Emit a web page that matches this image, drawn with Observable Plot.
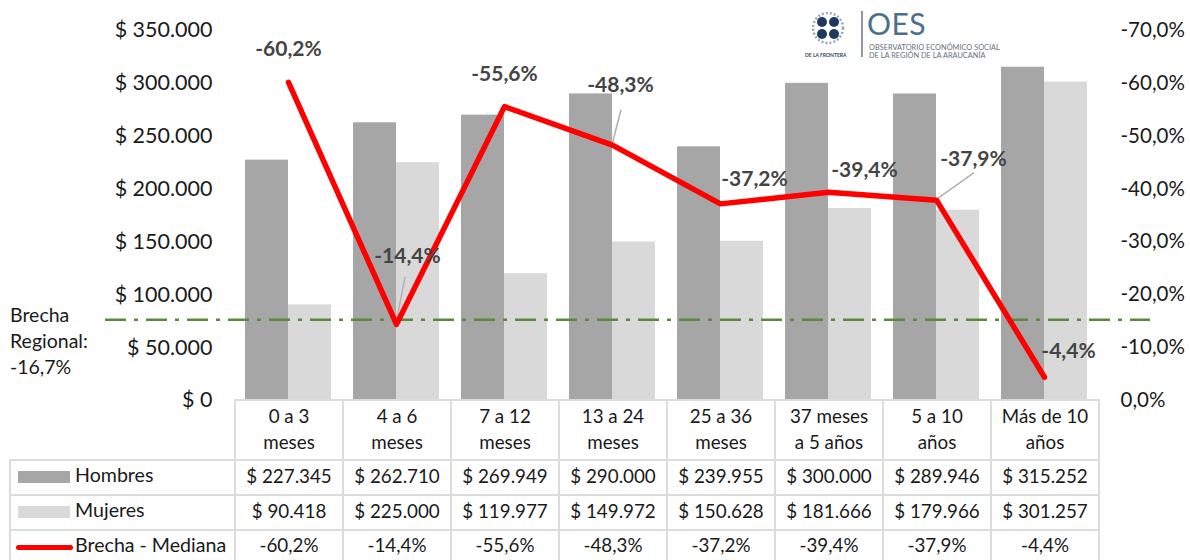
<!DOCTYPE html>
<html lang="es">
<head>
<meta charset="utf-8">
<script src="https://cdn.jsdelivr.net/npm/d3@7"></script>
<script src="https://cdn.jsdelivr.net/npm/@observablehq/plot@0.6"></script>
<style>
html,body{margin:0;padding:0;background:#fff;width:1190px;height:560px;overflow:hidden;font-family:Lato,sans-serif;color:#1a1a1a}
#wrap{position:relative;width:1190px;height:560px}
#chart{position:absolute;left:0;top:0}
#chart svg{overflow:visible;display:block}
table{position:absolute;left:9px;top:399px;border-collapse:collapse;table-layout:fixed;width:1090px;font-size:18.8px;text-align:center}
td{border:2px solid #dcdcdc;padding:0 0 3px 0;height:35px;line-height:26px;box-sizing:border-box;white-space:nowrap}
tr.h td{height:60px;line-height:26px;padding-bottom:3px}
tr.h td.blank{border:0;border-bottom:2px solid #dcdcdc}
tr.l td{height:31px;border-bottom:0;padding-bottom:2px}
td.k{text-align:left;position:relative;padding-left:64px;font-size:19.6px;padding-bottom:5px}
tr.l td.k{padding-bottom:2px}
td.k i{position:absolute;display:block}
#regional{position:absolute;left:10px;top:302px;font-size:19.5px;line-height:26px}
#logo{position:absolute;left:800px;top:8px;width:210px;height:54px;color:#5d6f80}
#logo .bar{position:absolute;left:61px;top:3px;width:2px;height:46px;background:#8c98a3}
#logo .oes{position:absolute;left:67px;top:0;font-size:30px;line-height:30px;height:30px;color:#4d6f8c;letter-spacing:.5px}
#logo .sub{position:absolute;left:69px;top:36px;font-size:7.4px;line-height:8px;white-space:nowrap;color:#66717b}
#logo .front{position:absolute;left:5px;top:44px;font-size:5px;font-weight:700;white-space:nowrap;color:#33465c}
#logo svg{position:absolute;left:8px;top:2px}
</style>
</head>
<body>
<div id="wrap">
<div id="chart"></div>
<div id="regional">Brecha<br>Regional:<br>-16,7%</div>
<div id="logo">
<svg width="40" height="40" viewBox="0 0 40 40"><g fill="#1f3a5f"><circle cx="14" cy="12" r="5"/><circle cx="26" cy="12" r="5"/><circle cx="14" cy="24" r="5"/><circle cx="26" cy="24" r="5"/></g><circle cx="20" cy="18" r="15" fill="none" stroke="#9aa7b5" stroke-width="2.5" stroke-dasharray="2 2"/></svg>
<div class="front">DE LA FRONTERA</div>
<div class="bar"></div>
<div class="oes">OES</div>
<div class="sub">OBSERVATORIO ECONÓMICO SOCIAL<br>DE LA REGIÓN DE LA ARAUCANÍA</div>
</div>
</div>
<script>
const categories = ["0 a 3 meses","4 a 6 meses","7 a 12 meses","13 a 24 meses","25 a 36 meses","37 meses a 5 años","5 a 10 años","Más de 10 años"];
const headerLines = [["0 a 3","meses"],["4 a 6","meses"],["7 a 12","meses"],["13 a 24","meses"],["25 a 36","meses"],["37 meses","a 5 años"],["5 a 10","años"],["Más de 10","años"]];
const hombres = [227345,262710,269949,290000,239955,300000,289946,315252];
const mujeres = [90418,225000,119977,149972,150628,181666,179966,301257];
const brecha = [60.2,14.4,55.6,48.3,37.2,39.4,37.9,4.4];
const brechaRegionalDibujada = 15.3;
const leftTicks = [0,50000,100000,150000,200000,250000,300000,350000];
const rightTicks = [0,10,20,30,40,50,60,70];
const labelOffsets = [[0,-33],[11,-68],[0,-32],[8,-60],[34,-25],[36,-22],[37,-41],[24,-26]];
const leaders = [null,[9,-47],null,[9,-35],null,null,[38,-27],null];

const gapToY = 5000;
const dots = n => String(n).replace(/\B(?=(\d{3})+(?!\d))/g,".");
const pct = v => v.toFixed(1).replace(".",",")+"%";
const rows = categories.map((c,i)=>({c,h:hombres[i],m:mujeres[i],g:brecha[i],gy:brecha[i]*gapToY,i}));

const labelMarks = rows.map((r,i)=>Plot.text([r],{
  x:"c",y:"gy",text:d=>"-"+pct(d.g),
  dx:labelOffsets[i][0],dy:labelOffsets[i][1],
  fontSize:21,fontWeight:700,fill:"#444444"
}));

const leaderMark = (index,scales)=>{
  const g = d3.create("svg:g").attr("stroke","#b0b0b0").attr("stroke-width",1.5);
  const half = scales.x.bandwidth()/2;
  rows.forEach((r,i)=>{
    if(!leaders[i]) return;
    const x = scales.x(r.c)+half, y = scales.y(r.gy);
    g.append("line").attr("x1",x).attr("y1",y).attr("x2",x+leaders[i][0]).attr("y2",y+leaders[i][1]);
  });
  return g.node();
};

const plot = Plot.plot({
  width:1190,height:400,marginTop:30,marginBottom:0,marginLeft:234,marginRight:92,
  style:{fontFamily:"Lato, sans-serif",background:"transparent",overflow:"visible"},
  x:{type:"band",domain:categories,padding:0,axis:null},
  y:{domain:[0,350000],axis:null},
  marks:[
    Plot.barY(rows,{x:"c",y:"h",fill:"#a6a6a6",insetLeft:11,insetRight:54}),
    Plot.barY(rows,{x:"c",y:"m",fill:"#d9d9d9",insetLeft:54,insetRight:11}),
    Plot.axisY({anchor:"left",ticks:leftTicks,tickSize:0,tickPadding:22,fontSize:21.5,fill:"#1a1a1a",label:null,tickFormat:d=>"$ "+dots(d)}),
    Plot.axisY({anchor:"right",ticks:rightTicks.map(d=>d*gapToY),tickSize:0,tickPadding:22,fontSize:20.5,fill:"#1a1a1a",label:null,tickFormat:d=>(d===0?"":"-")+pct(d/gapToY)}),
    Plot.ruleY([brechaRegionalDibujada*gapToY],{stroke:"#5b8a3a",strokeWidth:2.5,strokeDasharray:"21 8 4 8",insetLeft:-129,insetRight:-52}),
    leaderMark,
    Plot.line(rows,{x:"c",y:"gy",stroke:"#ff0000",strokeWidth:5.5,strokeLinejoin:"round",strokeLinecap:"round"}),
    ...labelMarks
  ]
});
document.getElementById("chart").append(plot);

const tbl = document.createElement("table");
const cg = document.createElement("colgroup");
[225,...categories.map(()=>108)].forEach(w=>{const c=document.createElement("col");c.style.width=w+"px";cg.append(c)});
tbl.append(cg);
const row = (cls,first,cells)=>{const tr=tbl.insertRow();tr.className=cls;const f=tr.insertCell();if(first)first(f);else f.className="blank";cells.forEach(t=>{const td=tr.insertCell();td.innerHTML=t});};
const key = (label,css)=>td=>{td.className="k";const i=document.createElement("i");i.style.cssText=css;td.append(i,label)};
row("h",null,headerLines.map(l=>l.join("<br>")));
row("",key("Hombres","left:7px;top:10px;width:52px;height:12px;background:#a6a6a6"),hombres.map(v=>"$ "+dots(v)));
row("",key("Mujeres","left:7px;top:10px;width:52px;height:12px;background:#d9d9d9"),mujeres.map(v=>"$ "+dots(v)));
row("l",key("Brecha - Mediana","left:5px;top:14px;width:57px;height:5px;border-radius:3px;background:#ff0000"),brecha.map(v=>"-"+pct(v)));
document.getElementById("wrap").append(tbl);
</script>
</body>
</html>
